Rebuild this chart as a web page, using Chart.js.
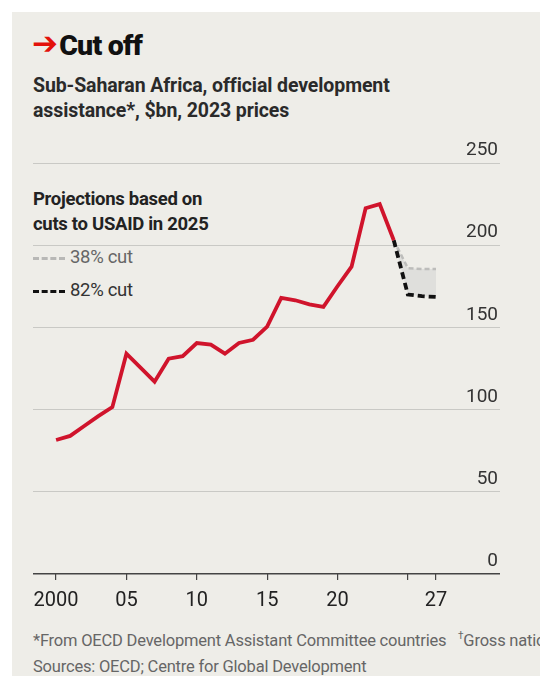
<!DOCTYPE html>
<html>
<head>
<meta charset="utf-8">
<script src="https://cdn.jsdelivr.net/npm/chart.js@4"></script>
<style>
  html, body { margin: 0; padding: 0; background: #fff; }
  body { width: 540px; height: 683px; position: relative; overflow: hidden; font-family: Roboto, "Liberation Sans", sans-serif; }
  #panel { position: absolute; left: 12px; top: 12px; width: 528px; height: 664px; background: #eeede8; }
  .txt { position: absolute; white-space: nowrap; }
  #title { left: 32px; top: 26px; font-size: 28.5px; font-weight: 900; color: #111; letter-spacing: -0.8px; }
  #title span { color: #e3120b; font-family: "DejaVu Sans"; font-weight: 700; font-size: 31px; position: relative; top: -1px; margin-right: 2px; }
  #sub { left: 33px; top: 73px; font-size: 19.5px; font-weight: 700; color: #2a2a2a; line-height: 25px; letter-spacing: -0.1px; }
  #legend { left: 33px; top: 187px; font-size: 18.5px; color: #222; line-height: 25px; letter-spacing: -0.3px; }
  #legend b { font-weight: 700; }
  .row { margin-top: 8px; line-height: 25px; }
  .key { display: inline-block; width: 32px; height: 0; margin-right: 5px; vertical-align: middle; border-top: 3.5px dashed; }
  #notes { left: 33px; top: 623px; font-size: 16.5px; color: #666; line-height: 26px; letter-spacing: -0.2px; }
  #wrap { position: absolute; left: 0; top: 140px; width: 540px; height: 480px; }
</style>
</head>
<body>
<div id="panel"></div>
<div class="txt" id="title"><span>➔</span>Cut off</div>
<div class="txt" id="sub">Sub-Saharan Africa, official development<br>assistance*, $bn, 2023 prices</div>
<div class="txt" id="legend">
  <b>Projections based on<br>cuts to USAID in 2025</b>
  <div class="row"><span class="key" style="border-color:#b8b8b6"></span><span style="color:#666">38% cut</span></div>
  <div class="row"><span class="key" style="border-color:#111"></span><span style="color:#333">82% cut</span></div>
</div>
<div class="txt" id="notes">*From OECD Development Assistant Committee countries&nbsp;&nbsp;&nbsp;<sup style="font-size:10px">†</sup>Gross national income<br>Sources: OECD; Centre for Global Development</div>
<div id="wrap"><canvas id="chart"></canvas></div>

<script>
// data
const years = [2000, 2001, 2002, 2003, 2004, 2005, 2006, 2007, 2008, 2009, 2010, 2011, 2012,
               2013, 2014, 2015, 2016, 2017, 2018, 2019, 2020, 2021, 2022, 2023, 2024];
const aid = [81.5, 84, 90, 96, 101.5, 134, 125.5, 117, 131, 132.5, 140.5, 139.5, 134,
             140.5, 142.5, 150.5, 168, 166.5, 164, 162.5, 175, 187, 222.5, 225, 203];
const projYears = [2024, 2025, 2026, 2027];
const cut38 = [203, 186, 185.5, 185.5];
const cut82 = [203, 170, 169, 168.5];
const yTicks = [0, 50, 100, 150, 200, 250];
const xTicks = [2000, 2005, 2010, 2015, 2020, 2025, 2027];
const xLabels = ['2000', '05', '10', '15', '20', '', '27'];

const pts = (xs, ys) => xs.map((x, i) => ({ x: x, y: ys[i] }));

const yLabelPlugin = {
  id: 'yLabels',
  afterDraw(chart) {
    const c = chart.ctx;
    const y = chart.scales.y;
    c.save();
    c.font = '19px Roboto';
    c.fillStyle = '#333';
    c.textAlign = 'right';
    c.textBaseline = 'bottom';
    yTicks.forEach(v => {
      c.fillText(String(v), chart.chartArea.right - 2, y.getPixelForValue(v) - 3);
    });
    c.restore();
  }
};

new Chart(document.getElementById('chart'), {
  type: 'line',
  data: {
    datasets: [
      {
        data: pts(projYears, cut82),
        borderColor: '#111',
        borderWidth: 3.8,
        borderDash: [7, 4],
        pointRadius: 0,
        fill: false,
        order: 1
      },
      {
        data: pts(projYears, cut38),
        borderColor: '#bdbdbb',
        borderWidth: 2.5,
        borderDash: [5, 3],
        pointRadius: 0,
        fill: 0,
        backgroundColor: '#dfdfdc',
        order: 2
      },
      {
        data: pts(years, aid),
        borderColor: '#d0142c',
        borderWidth: 3.8,
        pointRadius: 0,
        tension: 0,
        fill: false,
        order: 0
      }
    ]
  },
  options: {
    responsive: true,
    maintainAspectRatio: false,
    animation: false,
    layout: { padding: { left: 33, right: 40, top: 23, bottom: 6 } },
    plugins: { legend: { display: false }, tooltip: { enabled: false } },
    scales: {
      x: {
        type: 'linear',
        min: 1998.36,
        max: 2031.55,
        afterBuildTicks: s => { s.ticks = xTicks.map(v => ({ value: v })); },
        afterFit: s => { s.height = 40; },
        border: { display: false },
        grid: { drawOnChartArea: false, drawTicks: true, tickLength: 6, color: '#444', lineWidth: 1.2 },
        ticks: {
          autoSkip: false,
          maxRotation: 0,
          padding: 9,
          color: '#222',
          font: { family: 'Roboto', size: 20 },
          callback: v => xLabels[xTicks.indexOf(v)]
        }
      },
      y: {
        min: 0,
        max: 250,
        afterBuildTicks: s => { s.ticks = yTicks.map(v => ({ value: v })); },
        afterFit: s => { s.width = 0; },
        border: { display: false },
        grid: {
          drawTicks: false,
          color: ctx => ctx.tick && ctx.tick.value === 0 ? '#444' : '#c9c9c5',
          lineWidth: ctx => ctx.tick && ctx.tick.value === 0 ? 1.6 : 1
        },
        ticks: { display: false }
      }
    }
  },
  plugins: [yLabelPlugin]
});
</script>
</body>
</html>
